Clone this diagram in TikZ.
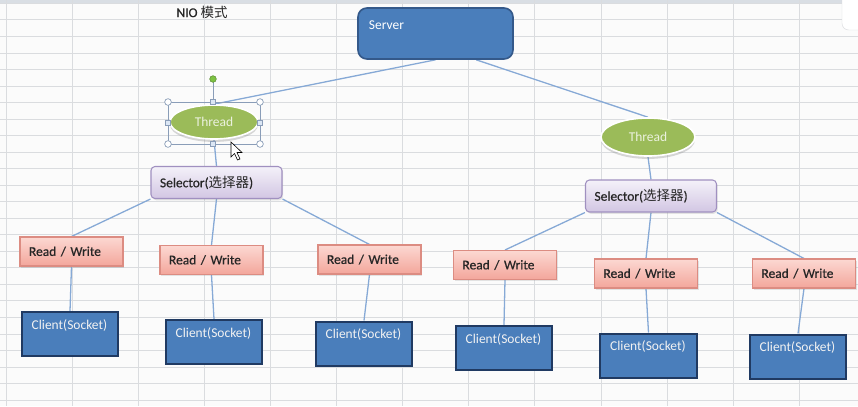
\documentclass[tikz,border=0pt]{standalone}
\usepackage{fontspec}
\setmainfont{Carlito}
\newfontfamily\darkfont[FakeBold=0.5]{Carlito}
\newfontfamily\cjk{Noto Sans CJK SC}
\usepackage{tikz}
\usetikzlibrary{shapes.geometric, positioning, backgrounds, calc, shadows}
\definecolor{SheetBg}{HTML}{FBFBFB}
\definecolor{GridGray}{HTML}{DADCDF}
\definecolor{HeadGray}{HTML}{D9DEE4}
\definecolor{ServerBlue}{HTML}{4A7EBB}
\definecolor{ServerEdge}{HTML}{34598A}
\definecolor{ClientEdge}{HTML}{203A62}
\definecolor{ThreadGreen}{HTML}{9BBB59}
\definecolor{ThreadText}{HTML}{EBF1DE}
\definecolor{SelTop}{HTML}{F4F1F9}
\definecolor{SelBottom}{HTML}{D2C6E3}
\definecolor{SelEdge}{HTML}{A090C0}
\definecolor{RWTop}{HTML}{FCD8D2}
\definecolor{RWBottom}{HTML}{F3A69B}
\definecolor{RWEdge}{HTML}{DC8C82}
\definecolor{LinkBlue}{HTML}{86A9D6}
\definecolor{HandleEdge}{HTML}{8A9DB8}
\definecolor{HandleFill}{HTML}{DCE7F5}
\definecolor{RotGreen}{HTML}{7DC242}

\begin{document}
\begin{tikzpicture}[
    x=0.03cm, y=-0.03cm,
    gridline/.style={draw=GridGray, line width=0.6pt},
    link/.style={draw=LinkBlue, line width=1.1pt},
    server/.style={rectangle, rounded corners=0.27cm, draw=ServerEdge, line width=1.4pt,
                   fill=ServerBlue, text=white, inner xsep=0.33cm, inner ysep=0pt,
                   text width=3.99cm, text height=0.63cm, text depth=0.9cm, align=left,
                   font=\fontsize{11.5}{13}\selectfont},
    thread/.style={ellipse, draw=white, line width=1.4pt, fill=ThreadGreen, text=ThreadText,
                   drop shadow={shadow xshift=0pt, shadow yshift=-2.5pt, opacity=0.3},
                   font=\fontsize{11.5}{13}\selectfont},
    selector/.style={rectangle, rounded corners=0.12cm, draw=SelEdge, line width=0.9pt,
                     top color=SelTop, bottom color=SelBottom, text=black!85,
                     drop shadow={shadow xshift=1pt, shadow yshift=-1.5pt, opacity=0.2},
                     minimum width=3.93cm, minimum height=0.96cm, inner xsep=0.27cm,
                     text width=3.39cm, align=left, font=\darkfont\fontsize{11.5}{13}\selectfont},
    rw/.style={rectangle, draw=RWEdge, line width=0.9pt, top color=RWTop, bottom color=RWBottom,
               drop shadow={shadow xshift=1pt, shadow yshift=-1.5pt, opacity=0.2},
               minimum width=3.09cm, minimum height=0.87cm, inner xsep=0.27cm,
               text width=2.55cm, align=left, text=black!85,
               font=\darkfont\fontsize{11.5}{13}\selectfont},
    client/.style={rectangle, draw=ClientEdge, line width=1.7pt, fill=ServerBlue,
                   text=white!95!black, inner xsep=0.3cm, inner ysep=0pt,
                   text width=2.3cm, text height=0.51cm, text depth=0.81cm, align=left,
                   font=\fontsize{11.5}{13}\selectfont}
]

\useasboundingbox (0,0) rectangle (858,406);

% sheet
\begin{scope}[on background layer]
\fill[SheetBg] (0,0) rectangle (858,406);
\fill[HeadGray] (0,0) rectangle (858,3.3);
\foreach \gx in {0,...,13}
    \draw[gridline] (6+66.1*\gx,0) -- (6+66.1*\gx,406);
\foreach \gy in {0,...,24}
    \draw[gridline] (0,3.3+16.53*\gy) -- (858,3.3+16.53*\gy);
\fill[white, draw=GridGray, rounded corners=0.2cm] (842,-10) rectangle (875,30);
\end{scope}

% title
\node[font=\darkfont\fontsize{11.5}{13}\selectfont, text=black!85] (title) at (202,12)
    {NIO {\cjk 模式}};

% server and threads
\node[server] (srv) at (435.5,33.5) {Server};
\coordinate (srvR) at ($(srv.south)!0.52!(srv.south east)$);

\node[thread, minimum width=2.64cm, minimum height=1.02cm] (thrA) at (214,122) {Thread};
\node[thread, minimum width=2.82cm, minimum height=1.14cm] (thrB) at (648,137) {Thread};

% selectors
\node[selector] (selA) at (216.5,182.5) {Selector({\cjk 选择器})};
\node[selector] (selB) at (651,196) {Selector({\cjk 选择器})};

% read / write
\node[rw] (rw1) at (71.5,251.5) {Read / Write};
\node[rw] (rw2) at (211.5,260) {Read / Write};
\node[rw] (rw3) at (369.5,259.5) {Read / Write};
\node[rw] (rw4) at (505,265) {Read / Write};
\node[rw] (rw5) at (646,273.5) {Read / Write};
\node[rw] (rw6) at (804,273.5) {Read / Write};

% clients
\node[client] (c1) at (70,334) {Client(Socket)};
\node[client] (c2) at (214,342) {Client(Socket)};
\node[client] (c3) at (364,343.5) {Client(Socket)};
\node[client] (c4) at (504,348) {Client(Socket)};
\node[client] (c5) at (648.5,355.5) {Client(Socket)};
\node[client] (c6) at (798,356.5) {Client(Socket)};

% links
\begin{scope}[on background layer]
\draw[link] (srv.south) -- (thrA.north);
\draw[link] (srvR) -- (thrB.north);
\draw[link] (thrA.south) -- (selA.north);
\draw[link] (thrB.south) -- (selB.north);
\draw[link] (selA.south west) -- (rw1.north);
\draw[link] (selA.south) -- (rw2.north);
\draw[link] (selA.south east) -- (rw3.north);
\draw[link] (selB.south west) -- (rw4.north);
\draw[link] (selB.south) -- (rw5.north);
\draw[link] (selB.south east) -- (rw6.north);
\foreach \i in {1,...,6}
    \draw[link] (rw\i.south) -- (c\i.north);
\end{scope}

% selection handles on the left thread
\draw[HandleEdge, line width=0.6pt] (168,102) rectangle (260,144);
\draw[HandleEdge, line width=0.6pt] (213,102) -- (213,82);
\fill[RotGreen, draw=RotGreen!70!black, line width=0.4pt] (213,79) circle (0.1cm);
\foreach \hx/\hy in {168/102, 260/102, 168/144, 260/144}
    \filldraw[fill=white, draw=HandleEdge, line width=0.6pt] (\hx,\hy) circle (0.1cm);
\foreach \hx/\hy in {213/102, 168/123, 260/123, 213/144}
    \filldraw[fill=HandleFill, draw=HandleEdge, line width=0.6pt]
        (\hx-2.7,\hy-2.7) rectangle (\hx+2.7,\hy+2.7);

% mouse pointer
\filldraw[fill=white, draw=black, line width=0.5pt]
    (231,142) -- (231,157) -- (234.5,153.5) -- (237.5,160) -- (240,159)
    -- (237,152.5) -- (242,152.5) -- cycle;

\end{tikzpicture}
\end{document}
